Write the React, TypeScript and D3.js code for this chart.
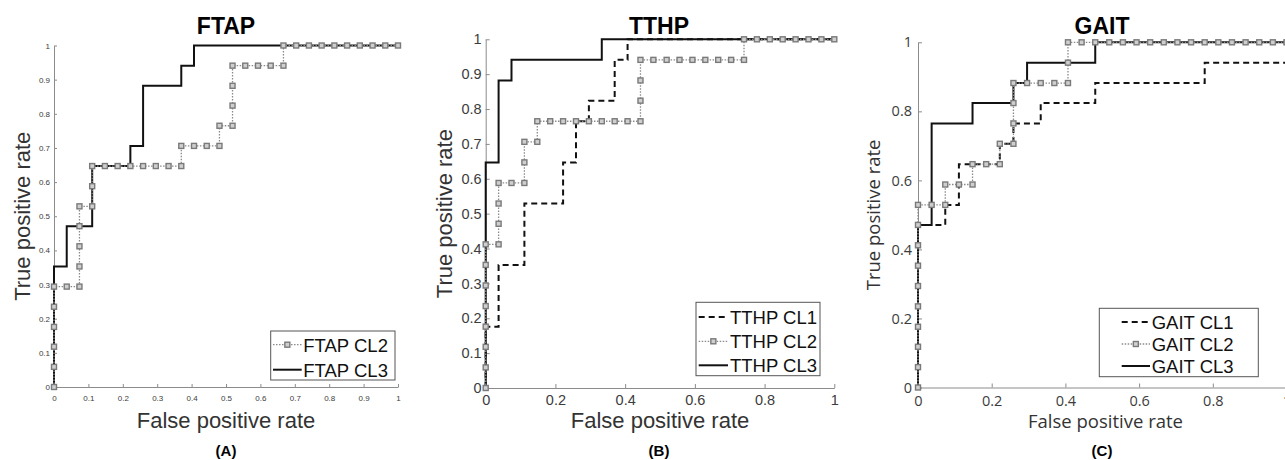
import React, { useEffect, useRef } from 'react'
import * as d3 from 'd3'

type Pt = [number, number]

// ROC points (FPR, TPR)
const ftapCl2: Pt[] = [
  [0, 0], [0, 0.059], [0, 0.118], [0, 0.176], [0, 0.235], [0, 0.294],
  [0.037, 0.294], [0.074, 0.294], [0.074, 0.353], [0.074, 0.412], [0.074, 0.471], [0.074, 0.529],
  [0.111, 0.529], [0.111, 0.588], [0.111, 0.647],
  [0.148, 0.647], [0.185, 0.647], [0.222, 0.647], [0.259, 0.647], [0.296, 0.647], [0.333, 0.647], [0.37, 0.647],
  [0.37, 0.706], [0.407, 0.706], [0.444, 0.706], [0.481, 0.706],
  [0.481, 0.765], [0.519, 0.765], [0.519, 0.824], [0.519, 0.882], [0.519, 0.941],
  [0.556, 0.941], [0.593, 0.941], [0.63, 0.941], [0.667, 0.941],
  [0.667, 1], [0.704, 1], [0.741, 1], [0.778, 1], [0.815, 1], [0.852, 1], [0.889, 1], [0.926, 1], [0.963, 1], [1, 1],
]
const ftapCl3: Pt[] = [
  [0, 0], [0, 0.353], [0.037, 0.353], [0.037, 0.471], [0.111, 0.471], [0.111, 0.647],
  [0.222, 0.647], [0.222, 0.706], [0.259, 0.706], [0.259, 0.882], [0.37, 0.882], [0.37, 0.941],
  [0.407, 0.941], [0.407, 1], [1, 1],
]

const tthpCl1: Pt[] = [
  [0, 0], [0, 0.176], [0.037, 0.176], [0.037, 0.353], [0.111, 0.353], [0.111, 0.529],
  [0.222, 0.529], [0.222, 0.647], [0.259, 0.647], [0.259, 0.765], [0.296, 0.765], [0.296, 0.824],
  [0.37, 0.824], [0.37, 0.941], [0.407, 0.941], [0.407, 1], [1, 1],
]
const tthpCl2: Pt[] = [
  [0, 0], [0, 0.059], [0, 0.118], [0, 0.176], [0, 0.235], [0, 0.294], [0, 0.353], [0, 0.412],
  [0.037, 0.412], [0.037, 0.471], [0.037, 0.529], [0.037, 0.588],
  [0.074, 0.588], [0.111, 0.588], [0.111, 0.647], [0.111, 0.706],
  [0.148, 0.706], [0.148, 0.765], [0.185, 0.765], [0.222, 0.765], [0.259, 0.765], [0.296, 0.765],
  [0.333, 0.765], [0.37, 0.765], [0.407, 0.765], [0.444, 0.765],
  [0.444, 0.824], [0.444, 0.882], [0.444, 0.941],
  [0.481, 0.941], [0.519, 0.941], [0.556, 0.941], [0.593, 0.941], [0.63, 0.941], [0.667, 0.941], [0.704, 0.941], [0.741, 0.941],
  [0.741, 1], [0.778, 1], [0.815, 1], [0.852, 1], [0.889, 1], [0.926, 1], [0.963, 1], [1, 1],
]
const tthpCl3: Pt[] = [
  [0, 0], [0, 0.647], [0.037, 0.647], [0.037, 0.882], [0.074, 0.882], [0.074, 0.941],
  [0.333, 0.941], [0.333, 1], [1, 1],
]

const gaitCl1: Pt[] = [
  [0, 0], [0, 0.471], [0.074, 0.471], [0.074, 0.529], [0.111, 0.529], [0.111, 0.647],
  [0.222, 0.647], [0.222, 0.706], [0.259, 0.706], [0.259, 0.765], [0.333, 0.765], [0.333, 0.824],
  [0.481, 0.824], [0.481, 0.882], [0.778, 0.882], [0.778, 0.941], [1, 0.941], [1, 1],
]
const gaitCl2: Pt[] = [
  [0, 0], [0, 0.059], [0, 0.118], [0, 0.176], [0, 0.235], [0, 0.294], [0, 0.353], [0, 0.412], [0, 0.471], [0, 0.529],
  [0.037, 0.529], [0.074, 0.529], [0.074, 0.588], [0.111, 0.588], [0.148, 0.588], [0.148, 0.647],
  [0.185, 0.647], [0.222, 0.647], [0.222, 0.706], [0.259, 0.706], [0.259, 0.765], [0.259, 0.824], [0.259, 0.882],
  [0.296, 0.882], [0.333, 0.882], [0.37, 0.882], [0.407, 0.882], [0.407, 0.941], [0.407, 1],
  [0.444, 1], [0.481, 1], [0.519, 1], [0.556, 1], [0.593, 1], [0.63, 1], [0.667, 1], [0.704, 1],
  [0.741, 1], [0.778, 1], [0.815, 1], [0.852, 1], [0.889, 1], [0.926, 1], [0.963, 1], [1, 1],
]
const gaitCl3: Pt[] = [
  [0, 0], [0, 0.471], [0.037, 0.471], [0.037, 0.765], [0.148, 0.765], [0.148, 0.824],
  [0.259, 0.824], [0.259, 0.882], [0.296, 0.882], [0.296, 0.941], [0.481, 0.941], [0.481, 1], [1, 1],
]

const ticksTenth = [0, 0.1, 0.2, 0.3, 0.4, 0.5, 0.6, 0.7, 0.8, 0.9, 1]
const ticksFifth = [0, 0.2, 0.4, 0.6, 0.8, 1]

const ARIAL = '"Liberation Sans", Arial, sans-serif'
const OPEN = '"Open Sans", "Noto Sans", sans-serif'

const panels = [
  {
    title: 'FTAP', tag: '(A)', cx: 226,
    left: 54, right: 398, top: 45.5, bottom: 387,
    xTicks: ticksTenth, yTicks: ticksTenth, tickFont: 8, tickFamily: ARIAL, tickLen: 3, xPad: 8, yPad: 4,
    labelFont: 22, labelFamily: ARIAL, yLabelX: 30, xLabelY: 428, xLabelShift: 0,
    series: [
      { name: 'FTAP CL2', kind: 'dot', data: ftapCl2 },
      { name: 'FTAP CL3', kind: 'solid', data: ftapCl3 },
    ],
    legend: { x: 270.7, y: 331, w: 124.3, h: 49, rows: [351.7, 376.7], lx0: 273, lx1: 301.7, tx: 303.3 },
  },
  {
    title: 'TTHP', tag: '(B)', cx: 659,
    left: 485.7, right: 834.3, top: 39.3, bottom: 388,
    xTicks: ticksFifth, yTicks: ticksTenth, tickFont: 14.5, tickFamily: ARIAL, tickLen: 4, xPad: 7, yPad: 4,
    labelFont: 22, labelFamily: ARIAL, yLabelX: 452, xLabelY: 428, xLabelShift: 0,
    series: [
      { name: 'TTHP CL1', kind: 'dash', data: tthpCl1 },
      { name: 'TTHP CL2', kind: 'dot', data: tthpCl2 },
      { name: 'TTHP CL3', kind: 'solid', data: tthpCl3 },
    ],
    legend: { x: 696, y: 302.3, w: 124, h: 73.4, rows: [324, 348.3, 372.3], lx0: 698.7, lx1: 728, tx: 730 },
  },
  {
    title: 'GAIT', tag: '(C)', cx: 1102,
    left: 918, right: 1286.5, top: 42.3, bottom: 387.5,
    xTicks: ticksFifth, yTicks: ticksFifth, tickFont: 14.5, tickFamily: OPEN, tickLen: 4, xPad: 8, yPad: 6,
    labelFont: 18.5, labelFamily: OPEN, yLabelX: 880, xLabelY: 428, xLabelShift: 4,
    series: [
      { name: 'GAIT CL1', kind: 'dash', data: gaitCl1 },
      { name: 'GAIT CL2', kind: 'dot', data: gaitCl2 },
      { name: 'GAIT CL3', kind: 'solid', data: gaitCl3 },
    ],
    legend: { x: 1099.3, y: 308.3, w: 159, h: 68.4, rows: [329, 351, 373], lx0: 1121.7, lx1: 1150, tx: 1151.7 },
  },
]

const styleOf = (kind: string) => {
  if (kind === 'dash') return { stroke: '#111', width: 2, dash: '6,4' }
  if (kind === 'dot') return { stroke: '#8a8a8a', width: 1.3, dash: '1.5,1.5' }
  return { stroke: '#111', width: 2, dash: null }
}

function drawMarkers(g: any, pts: Pt[], x: any, y: any) {
  const s = 5
  g.selectAll('rect.mk').data(pts).join('rect').attr('class', 'mk')
    .attr('x', (d: Pt) => x(d[0]) - s / 2).attr('y', (d: Pt) => y(d[1]) - s / 2)
    .attr('width', s).attr('height', s)
    .attr('fill', '#cfcfcf').attr('stroke', '#7a7a7a').attr('stroke-width', 1.4)
}

function drawPanel(svg: any, p: any) {
  const x = d3.scaleLinear().domain([0, 1]).range([p.left, p.right])
  const y = d3.scaleLinear().domain([0, 1]).range([p.bottom, p.top])
  const g = svg.append('g')

  const xAxis = d3.axisBottom(x).tickValues(p.xTicks).tickFormat((d: any) => String(d))
    .tickSizeInner(-p.tickLen).tickSizeOuter(0).tickPadding(p.xPad)
  const yAxis = d3.axisLeft(y).tickValues(p.yTicks).tickFormat((d: any) => String(d))
    .tickSizeInner(-p.tickLen).tickSizeOuter(0).tickPadding(p.yPad)

  const xg = g.append('g').attr('transform', `translate(0,${p.bottom})`).call(xAxis)
  const yg = g.append('g').attr('transform', `translate(${p.left},0)`).call(yAxis)
  for (const ag of [xg, yg]) {
    ag.select('.domain').attr('stroke', '#8c8c8c').attr('stroke-width', 1)
    ag.selectAll('.tick line').attr('stroke', '#8c8c8c')
    ag.selectAll('.tick text').attr('fill', '#3c3c3c').attr('font-size', p.tickFont).attr('font-family', p.tickFamily)
  }

  const line = d3.line<Pt>().x(d => x(d[0])).y(d => y(d[1]))
  const order = ['solid', 'dash', 'dot']
  const sorted = [...p.series].sort((a: any, b: any) => order.indexOf(a.kind) - order.indexOf(b.kind))
  for (const s of sorted) {
    const st = styleOf(s.kind)
    g.append('path').attr('d', line(s.data)).attr('fill', 'none')
      .attr('stroke', st.stroke).attr('stroke-width', st.width)
      .attr('stroke-dasharray', st.dash)
    if (s.kind === 'dot') drawMarkers(g.append('g'), s.data, x, y)
  }

  // titles and labels
  g.append('text').text(p.title).attr('x', p.cx).attr('y', 34).attr('text-anchor', 'middle')
    .attr('font-family', ARIAL).attr('font-weight', 'bold').attr('font-size', 23).attr('fill', '#000')
  g.append('text').text('False positive rate').attr('x', (p.left + Math.min(p.right, 1285)) / 2 + p.xLabelShift).attr('y', p.xLabelY)
    .attr('text-anchor', 'middle').attr('font-family', p.labelFamily).attr('font-size', p.labelFont).attr('fill', '#333')
  g.append('text').text('True positive rate')
    .attr('transform', `translate(${p.yLabelX},${(p.top + p.bottom) / 2}) rotate(-90)`)
    .attr('text-anchor', 'middle').attr('font-family', p.labelFamily).attr('font-size', p.labelFont).attr('fill', '#333')
  g.append('text').text(p.tag).attr('x', p.cx).attr('y', 456).attr('text-anchor', 'middle')
    .attr('font-family', ARIAL).attr('font-weight', 'bold').attr('font-size', 15).attr('fill', '#000')

  // legend
  const L = p.legend
  const lg = g.append('g')
  lg.append('rect').attr('x', L.x).attr('y', L.y).attr('width', L.w).attr('height', L.h)
    .attr('fill', '#fff').attr('stroke', '#555').attr('stroke-width', 1)
  p.series.forEach((s: any, i: number) => {
    const st = styleOf(s.kind)
    const cy = L.rows[i] - 7
    lg.append('line').attr('x1', L.lx0).attr('x2', L.lx1).attr('y1', cy).attr('y2', cy)
      .attr('stroke', st.stroke).attr('stroke-width', st.width).attr('stroke-dasharray', st.dash)
    if (s.kind === 'dot') {
      lg.append('rect').attr('x', (L.lx0 + L.lx1) / 2 - 2.5).attr('y', cy - 2.5).attr('width', 5).attr('height', 5)
        .attr('fill', '#cfcfcf').attr('stroke', '#7a7a7a').attr('stroke-width', 1.4)
    }
    lg.append('text').text(s.name).attr('x', L.tx).attr('y', L.rows[i])
      .attr('font-family', ARIAL).attr('font-size', 18.5).attr('fill', '#111')
  })
}

export default function App() {
  const ref = useRef<SVGSVGElement>(null)
  useEffect(() => {
    const svg = d3.select(ref.current)
    svg.selectAll('*').remove()
    panels.forEach(p => drawPanel(svg, p))
  }, [])
  return (
    <svg ref={ref} width={1285} height={460}
      style={{ position: 'absolute', left: 0, top: 0, background: '#fff' }} />
  )
}
